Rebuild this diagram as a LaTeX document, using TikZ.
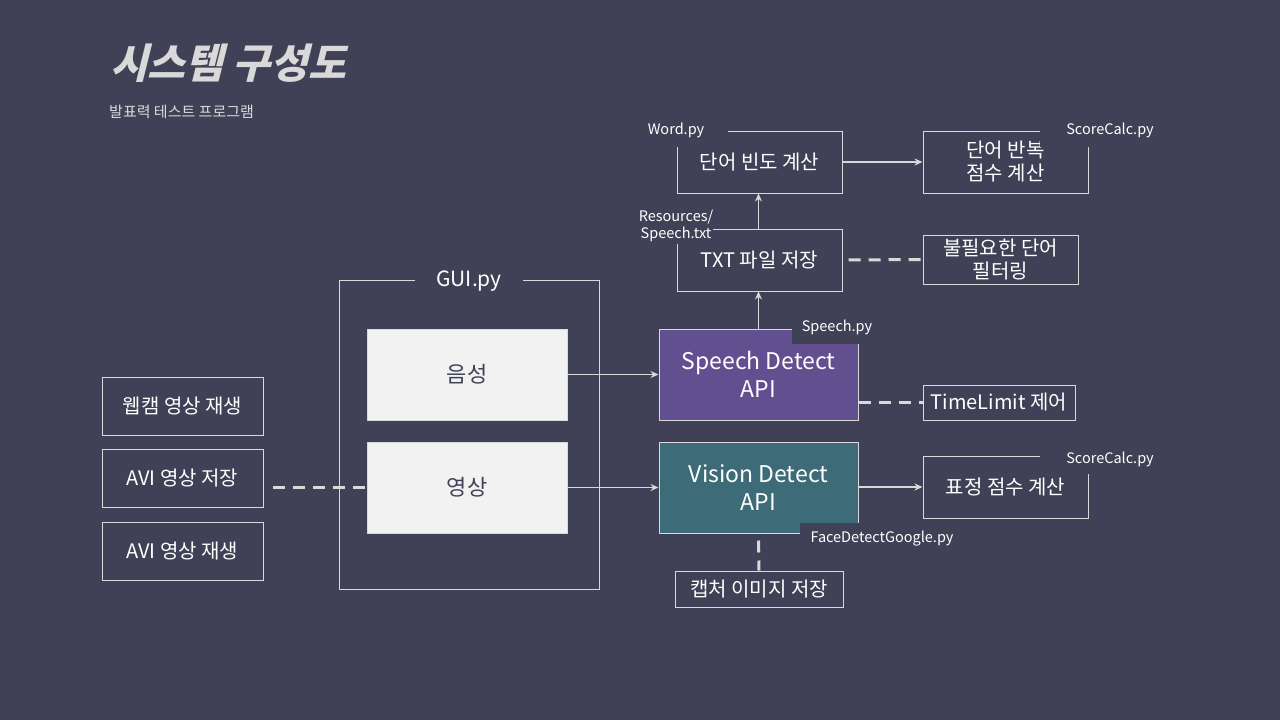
\documentclass[tikz,border=0pt]{standalone}
\usepackage{fontspec}
\setmainfont{Noto Sans CJK KR}
\newfontfamily\titlefont[FakeSlant=0.25]{Noto Sans CJK KR}
\usetikzlibrary{arrows.meta}
\definecolor{bg}{HTML}{404156}
\definecolor{fg}{HTML}{D9D9D9}
\definecolor{spc}{HTML}{624F8F}
\definecolor{vic}{HTML}{3E6B78}
\definecolor{ltc}{HTML}{F2F2F2}
\begin{document}
\begin{tikzpicture}[x=1pt,y=-1pt,
  wh/.style 2 args={minimum width=#1pt, minimum height=#2pt},
  box/.style={draw=fg, line width=1pt, text=white, font=\fontsize{20}{23}\selectfont, align=center, inner sep=0pt},
  lbox/.style={fill=ltc, draw=fg, line width=0.6pt, text=bg, font=\fontsize{22}{26}\selectfont, inner sep=0pt},
  api/.style={draw=fg, line width=1pt, text=white, font=\fontsize{23}{28}\selectfont, align=center, inner sep=0pt},
  lbl/.style={fill=bg, text=white, font=\fontsize{14.5}{17}\selectfont, align=center, inner sep=0pt},
  arr/.style={draw=fg, line width=1.9pt, -{Stealth[length=8pt,width=7pt]}},
  dsh/.style={draw=fg, line width=3pt, dash pattern=on 12pt off 8pt}]
\fill[bg] (0,0) rectangle (1280,720);
\useasboundingbox (0,0) rectangle (1280,720);

% title
\node[anchor=west, text=fg, font=\titlefont\bfseries\fontsize{41}{48}\selectfont, inner sep=0pt] (title) at (110,63) {시스템 구성도};
\node[anchor=west, text=fg, font=\fontsize{15}{18}\selectfont, inner sep=0pt] (sub) at (109,112) {발표력 테스트 프로그램};

% GUI container
\node[box, wh={260}{309}] (gui) at (469,434.5) {};
\node[lbl, font=\fontsize{21}{24}\selectfont, minimum width=108pt, minimum height=20pt] (guil) at (469,281) {GUI.py};
\node[lbox, wh={200}{91}] (voice) at (467,374.5) {음성};
\node[lbox, wh={200}{91}] (video) at (467,487.5) {영상};

% left boxes
\node[box, wh={161}{58}] (web) at (182.5,406) {웹캠 영상 재생};
\node[box, wh={161}{58}] (avis) at (182.5,478) {AVI 영상 저장};
\node[box, wh={161}{58}] (avip) at (182.5,551) {AVI 영상 재생};

% API boxes
\node[api, fill=spc, wh={199}{91}] (speech) at (758.5,374.5) {Speech Detect\\API};
\node[api, fill=vic, wh={199}{91}] (vision) at (758.5,487.5) {Vision Detect\\API};

% upper boxes
\node[box, wh={165}{62}] (word) at (759.5,162) {단어 빈도 계산};
\node[box, wh={165}{62}] (rep) at (1005.5,162) {단어 반복\\점수 계산};
\node[box, wh={165}{62}] (txt) at (759.5,260) {TXT 파일 저장};
\node[box, wh={155}{49}] (filt) at (1000.5,259.5) {불필요한 단어\\필터링};

% right boxes
\node[box, wh={152}{35}] (tl) at (999,402.5) {TimeLimit 제어};
\node[box, wh={165}{62}] (face) at (1005.5,487) {표정 점수 계산};
\node[box, wh={168}{36}] (cap) at (759,589) {캡처 이미지 저장};

% labels covering borders
\node[lbl, minimum width=104pt, minimum height=32pt] (wordl) at (676,130.5) {Word.py};
\node[lbl, minimum width=140pt, minimum height=32pt] (repl) at (1110,130.5) {ScoreCalc.py};
\node[lbl, minimum width=74pt, minimum height=36pt] (txtl) at (676,225.5) {Resources/\\Speech.txt};
\node[lbl, minimum width=90pt, minimum height=33pt] (spl) at (837,327) {Speech.py};
\node[lbl, minimum width=164pt, minimum height=32pt] (vil) at (882,538.5) {FaceDetectGoogle.py};
\node[lbl, minimum width=140pt, minimum height=28pt] (facel) at (1110,459.5) {ScoreCalc.py};

% connectors
\draw[arr, line width=1.5pt] (voice.east) -- (speech.west);
\draw[arr, line width=1.5pt] (video.east) -- (vision.west);
\draw[arr] (speech.north) -- (speech.north |- txt.south);
\draw[arr] (speech.north |- txt.north) -- (speech.north |- word.south);
\draw[arr] (word.east) -- (rep.west);
\draw[arr] (vision.east |- face.west) -- (face.west);
\draw[dsh, shorten <=6pt] (txt.east) -- (filt.west);
\draw[dsh] (speech.east |- tl.west) -- (tl.west);
\draw[dsh, shorten <=7pt] (vision.south) -- (cap.north);
\draw[dsh, shorten <=9pt] (avis.east |- video.west) -- (video.west);
\end{tikzpicture}
\end{document}
